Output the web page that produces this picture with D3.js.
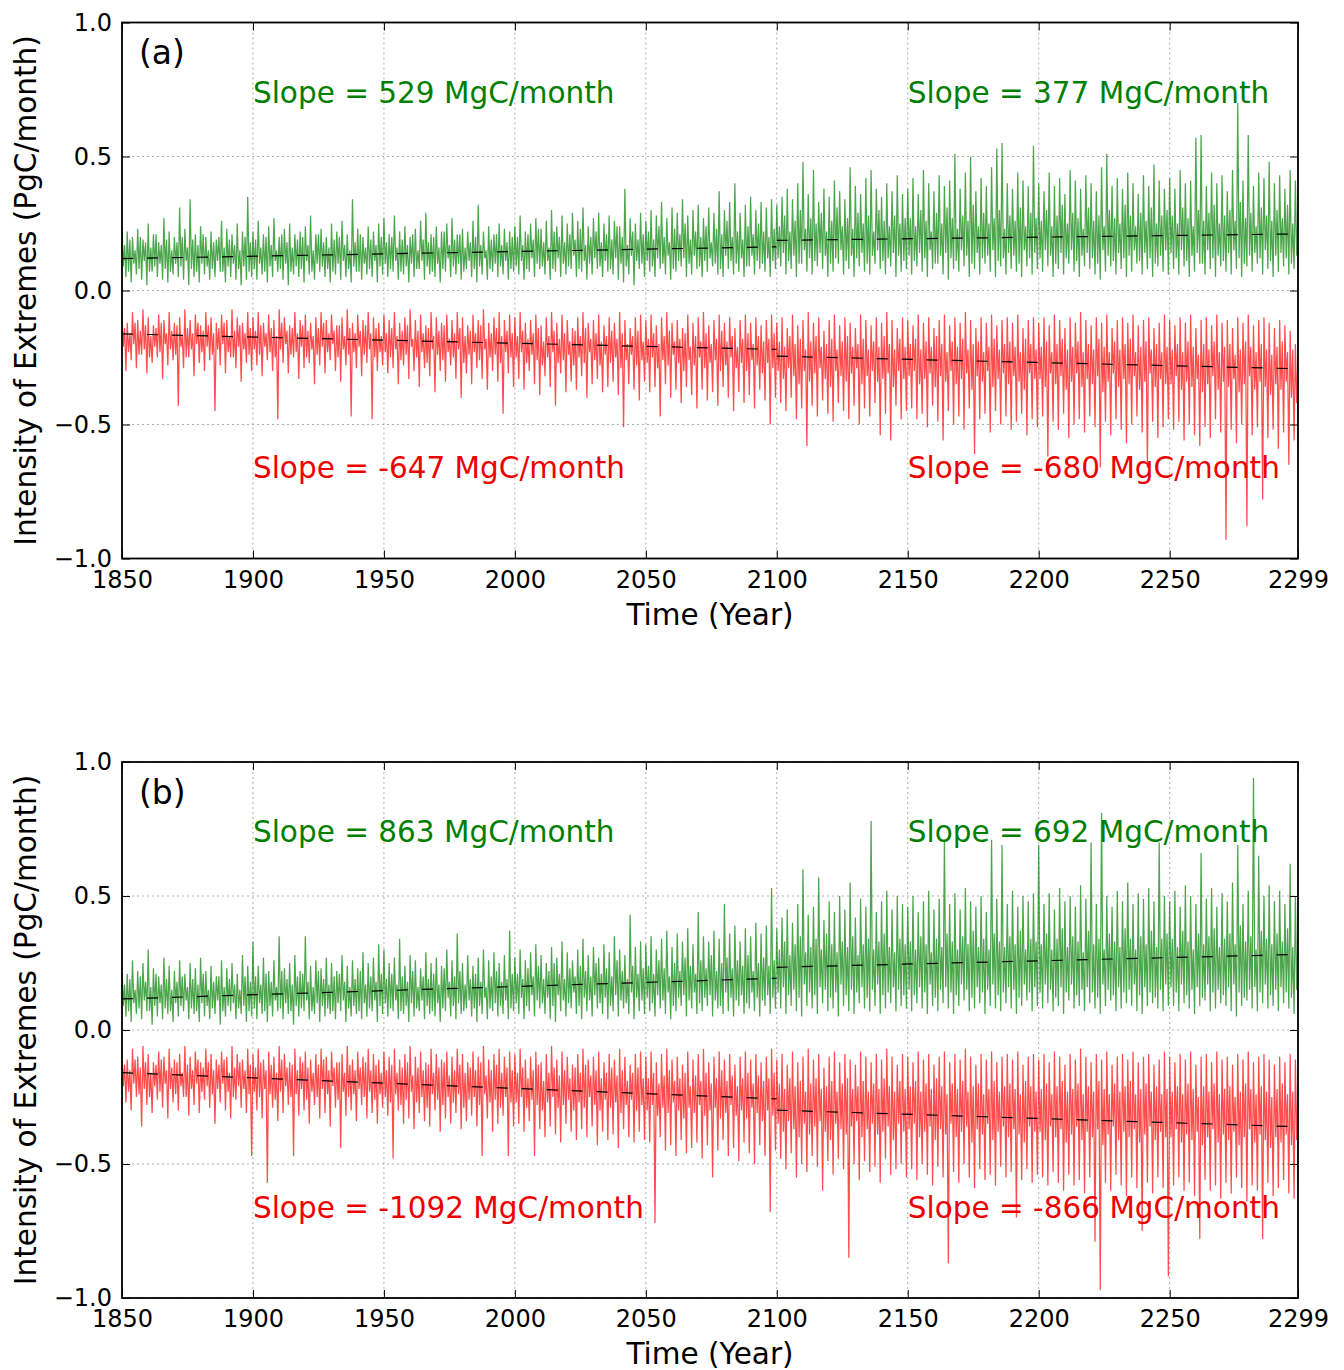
<!DOCTYPE html>
<html><head><meta charset="utf-8">
<script src="https://cdn.jsdelivr.net/npm/d3@7"></script>
<style>body{margin:0;background:#fff}svg{display:block}text{font-family:"DejaVu Sans",sans-serif}</style>
</head><body>
<script>
// ---- data (values in units of 0.01 PgC/month; 2-year bins starting 1850) ----
// Hi / Lo: extreme upper / lower excursion in the bin; Hi2 / Lo2: typical (core-band) upper / lower level in the bin
const binStart = 1850, binYears = 2;
const xTicks = [1850,1900,1950,2000,2050,2100,2150,2200,2250,2299];
const yTicks = [1.0,0.5,0.0,-0.5,-1.0];
const panelLabels = ["(a)","(b)"];
const slopeTextsA = ["Slope = 529 MgC/month","Slope = 377 MgC/month","Slope = -647 MgC/month","Slope = -680 MgC/month"];
const slopeTextsB = ["Slope = 863 MgC/month","Slope = 692 MgC/month","Slope = -1092 MgC/month","Slope = -866 MgC/month"];

const gAHi = [24,22,20,23,19,25,21,18,27,22,20,31,23,34,21,24,20,22,19,26,23,21,25,22,35,
22,26,21,24,27,20,23,25,21,22,24,28,21,23,20,25,22,26,21,34,23,20,24,22,25,
27,21,28,22,24,20,23,26,29,21,24,22,25,27,21,23,22,26,32,22,24,21,25,23,22,
24,28,22,25,27,23,26,30,24,28,25,29,26,31,24,27,29,25,28,26,24,38,27,25,29,
26,30,28,33,27,31,29,34,28,30,32,27,31,29,37,30,33,40,29,32,35,30,33,31,34,
32,35,38,34,40,48,36,45,33,38,35,41,37,34,46,39,36,42,45,38,35,40,37,43,36,
38,42,36,45,40,37,43,39,41,51,38,44,50,37,42,39,46,53,55,40,38,44,41,39,54,
40,37,44,39,42,36,45,41,38,43,40,37,46,51,39,42,38,44,40,36,43,39,47,41,38,
42,38,45,40,41,57,58,39,44,40,43,37,45,70,41,58,39,44,42,48,40,43,38,45,41];
const gALo = [5,3,6,4,2,7,5,4,3,6,5,4,2,5,3,6,4,5,7,3,5,4,2,4,5,
4,6,3,5,7,4,2,6,5,3,6,4,7,5,3,6,4,5,3,7,4,6,5,3,6,
5,7,4,6,3,5,8,4,6,5,3,7,5,6,4,8,5,3,6,4,7,5,6,4,7,
6,4,7,5,8,6,4,7,5,6,8,5,7,4,6,8,5,7,6,4,3,6,2,8,5,
7,5,8,6,4,7,9,5,6,8,5,7,9,6,5,8,6,7,5,9,6,8,7,5,8,
9,6,8,5,10,7,6,9,8,5,7,10,6,8,5,9,7,6,10,8,6,9,5,7,8,
6,9,7,5,8,10,6,4,8,7,9,5,8,6,10,7,5,9,6,8,7,5,9,6,8,
7,9,5,8,6,10,7,5,9,8,6,4,7,9,6,8,5,7,10,6,8,5,9,7,6,
8,6,9,5,7,10,6,8,5,9,7,6,8,5,9,7,10,6,8,5,7,9,6,8,7];
const gAHi2 = [17,19,15,20,18,16,21,17,19,15,18,20,16,19,17,21,15,18,20,16,19,17,15,20,18,
19,16,20,17,15,21,18,16,19,20,17,15,21,18,16,19,20,17,15,18,21,16,19,17,20,
18,20,16,19,17,21,15,19,18,20,16,22,17,19,21,16,18,20,17,15,19,21,17,18,20,
20,17,21,19,23,18,16,22,20,18,21,19,23,17,20,22,18,21,19,24,20,17,22,19,21,
22,19,24,20,18,23,21,25,19,22,20,24,18,23,21,26,20,22,19,24,21,25,22,20,23,
24,28,22,26,30,23,27,25,29,22,26,31,24,27,23,29,25,28,22,30,26,24,28,25,27,
27,24,30,26,22,29,25,31,27,23,28,26,32,24,29,25,27,30,23,28,26,31,24,29,27,
26,30,24,28,32,25,29,27,23,31,26,28,24,30,27,25,32,28,24,29,26,31,25,28,30,
28,25,31,27,24,30,26,29,32,25,28,30,26,33,27,29,24,31,28,26,30,27,32,25,29];
const gALo2 = [9,7,10,8,11,7,9,10,8,7,10,9,11,8,7,10,9,8,11,7,9,10,8,9,7,
8,10,7,9,11,8,10,7,9,8,11,7,10,9,8,7,10,11,8,9,7,10,8,11,9,
10,8,11,7,9,10,8,11,9,7,10,8,12,9,10,7,11,8,9,12,8,10,9,11,8,
9,11,8,12,10,9,11,8,12,10,9,13,8,11,10,12,9,11,8,12,10,9,13,11,10,
11,9,12,10,13,8,11,12,10,13,9,11,12,10,8,13,11,10,12,9,13,11,10,12,11,
12,14,11,13,10,15,12,11,14,13,10,12,15,11,13,12,14,10,13,15,11,12,14,13,11,
13,11,14,12,15,10,13,14,12,11,15,13,10,14,12,13,15,11,12,14,13,10,15,12,14,
12,15,13,10,14,12,15,11,13,14,12,10,15,13,11,14,12,13,15,11,14,12,10,13,15,
14,12,15,11,13,14,10,15,12,13,11,14,15,12,10,13,14,12,15,11,13,14,12,10,13];

const rAHi = [-9,-12,-8,-11,-7,-10,-13,-9,-11,-8,-12,-10,-7,-11,-9,-13,-8,-10,-12,-9,-11,-7,-10,-12,-8,
-10,-8,-12,-9,-11,-7,-10,-13,-8,-11,-9,-12,-10,-8,-11,-9,-13,-10,-7,-12,-9,-11,-8,-10,-12,
-9,-11,-8,-12,-10,-7,-11,-9,-13,-8,-10,-12,-9,-11,-8,-10,-13,-9,-11,-7,-12,-10,-8,-11,-9,
-10,-8,-12,-11,-9,-13,-10,-8,-12,-9,-11,-14,-10,-8,-12,-11,-9,-13,-10,-12,-8,-11,-14,-10,-9,
-11,-9,-13,-10,-8,-12,-11,-14,-9,-12,-10,-8,-13,-11,-9,-12,-10,-14,-11,-9,-12,-10,-13,-11,-9,
-12,-10,-14,-9,-13,-11,-8,-12,-10,-15,-11,-9,-13,-10,-12,-14,-9,-11,-13,-10,-12,-8,-11,-14,-10,
-11,-13,-9,-12,-10,-14,-11,-9,-13,-10,-12,-8,-11,-14,-10,-12,-9,-13,-11,-10,-12,-9,-14,-11,-10,
-12,-10,-13,-9,-11,-14,-10,-12,-8,-11,-13,-10,-12,-9,-14,-11,-10,-12,-9,-13,-11,-10,-14,-12,-9,
-11,-13,-10,-12,-9,-14,-11,-10,-13,-9,-12,-11,-14,-10,-12,-9,-13,-11,-10,-12,-14,-11,-13,-15,-20];
const rALo = [-30,-26,-29,-24,-31,-27,-25,-33,-28,-26,-43,-29,-25,-32,-27,-30,-26,-45,-28,-31,-25,-29,-34,-27,-30,
-28,-32,-26,-30,-48,-27,-31,-25,-33,-29,-27,-35,-28,-31,-26,-30,-34,-28,-47,-29,-32,-27,-48,-30,-28,
-31,-29,-35,-28,-33,-30,-36,-29,-32,-38,-30,-34,-28,-33,-40,-31,-35,-29,-33,-37,-30,-34,-46,-31,-36,
-33,-37,-30,-35,-39,-32,-36,-43,-31,-38,-34,-37,-32,-40,-35,-33,-38,-36,-34,-39,-51,-35,-37,-41,-34,
-38,-36,-47,-35,-40,-37,-42,-36,-39,-44,-37,-41,-38,-43,-36,-40,-45,-38,-42,-39,-44,-37,-41,-50,-40,
-42,-45,-40,-48,-44,-58,-43,-47,-41,-46,-49,-42,-45,-48,-43,-50,-44,-47,-42,-54,-46,-56,-43,-48,-45,
-44,-48,-46,-51,-43,-49,-56,-45,-50,-47,-52,-44,-61,-48,-46,-53,-45,-50,-47,-52,-49,-46,-54,-48,-51,
-47,-62,-49,-52,-46,-55,-50,-48,-53,-47,-51,-66,-49,-54,-48,-52,-57,-50,-47,-53,-66,-49,-55,-51,-48,
-52,-49,-56,-50,-54,-58,-51,-55,-48,-53,-93,-52,-57,-50,-88,-54,-51,-78,-55,-52,-59,-53,-65,-56,-58];
const rAHi2 = [-14,-16,-12,-15,-13,-17,-14,-12,-16,-15,-13,-17,-14,-16,-12,-15,-13,-16,-14,-12,-17,-15,-13,-16,-14,
-15,-13,-16,-14,-17,-12,-15,-14,-16,-13,-15,-17,-14,-12,-16,-15,-13,-17,-14,-16,-15,-13,-16,-14,-17,
-16,-14,-17,-15,-13,-18,-15,-16,-14,-17,-15,-13,-18,-16,-14,-17,-15,-16,-13,-18,-16,-14,-17,-15,-16,
-17,-15,-18,-16,-14,-19,-17,-15,-18,-16,-19,-15,-17,-14,-18,-16,-19,-17,-15,-18,-16,-20,-17,-15,-19,
-18,-16,-20,-17,-15,-19,-18,-16,-21,-17,-19,-16,-20,-18,-15,-19,-17,-21,-18,-16,-20,-17,-19,-18,-16,
-19,-21,-17,-20,-18,-22,-19,-17,-21,-20,-18,-22,-19,-17,-21,-20,-18,-22,-19,-21,-17,-20,-22,-18,-21,
-20,-18,-22,-19,-21,-17,-20,-23,-19,-21,-18,-22,-20,-19,-23,-21,-18,-22,-20,-19,-21,-23,-18,-20,-22,
-21,-19,-23,-20,-18,-22,-21,-19,-23,-20,-22,-18,-21,-23,-19,-22,-20,-18,-23,-21,-19,-22,-20,-23,-21,
-22,-20,-23,-19,-21,-24,-20,-22,-19,-23,-21,-20,-24,-22,-19,-21,-23,-20,-22,-24,-21,-19,-23,-22,-25];
const rALo2 = [-21,-23,-20,-24,-22,-25,-21,-23,-20,-22,-24,-21,-25,-22,-20,-23,-21,-24,-22,-20,-23,-25,-21,-22,-24,
-22,-24,-21,-23,-25,-22,-20,-24,-23,-21,-25,-22,-24,-21,-23,-20,-25,-22,-24,-23,-21,-24,-22,-25,-23,
-23,-25,-22,-26,-24,-21,-25,-23,-27,-22,-24,-26,-23,-25,-22,-27,-24,-23,-26,-22,-25,-24,-27,-23,-25,
-25,-23,-27,-24,-26,-28,-25,-23,-27,-26,-24,-28,-25,-27,-23,-26,-28,-24,-27,-25,-29,-26,-24,-28,-26,
-27,-25,-29,-26,-28,-24,-27,-30,-26,-28,-25,-29,-27,-26,-30,-28,-25,-29,-27,-30,-26,-28,-31,-27,-29,
-30,-33,-29,-32,-35,-30,-34,-31,-29,-33,-36,-30,-32,-34,-31,-29,-35,-32,-30,-34,-33,-31,-36,-30,-33,
-32,-30,-35,-33,-31,-36,-32,-34,-30,-35,-33,-31,-37,-32,-34,-30,-36,-33,-31,-35,-32,-34,-37,-31,-33,
-33,-36,-31,-35,-32,-37,-34,-31,-36,-33,-35,-32,-38,-34,-31,-36,-33,-35,-32,-37,-34,-31,-36,-33,-35,
-35,-32,-37,-34,-36,-33,-38,-35,-32,-37,-34,-36,-33,-38,-35,-32,-37,-34,-36,-39,-35,-37,-34,-40,-42];

const gBHi = [24,21,26,22,25,30,23,20,27,24,22,26,21,25,23,27,22,24,20,26,23,25,21,28,24,
33,24,27,22,26,35,23,25,28,22,35,24,26,23,27,25,22,28,24,26,23,29,25,27,32,
30,25,27,34,24,28,26,23,29,25,27,24,30,26,36,25,28,24,27,30,26,29,25,28,37,
27,30,26,29,32,28,25,31,27,33,29,26,30,34,28,31,27,32,29,35,30,28,43,31,33,
32,35,30,34,37,31,36,33,38,32,44,35,33,37,34,47,36,39,33,38,35,40,36,39,53,
38,42,45,40,47,60,43,46,57,41,48,44,50,45,55,42,49,46,78,44,48,52,45,50,47,
46,50,44,48,52,45,49,71,47,51,45,53,48,46,50,44,71,49,69,47,52,46,50,48,51,
69,47,51,45,53,48,50,46,54,49,70,47,81,50,46,52,48,55,47,51,49,53,48,70,50,
48,52,46,54,50,47,66,49,53,46,51,48,55,69,47,52,94,65,50,54,48,52,47,62,50];
const gBLo = [5,3,6,4,7,2,5,4,6,3,5,7,4,6,3,5,4,6,2,5,7,4,6,3,5,
4,6,3,5,7,4,6,2,5,7,4,6,3,5,6,4,7,3,5,6,4,5,7,3,6,
5,7,4,6,3,5,7,4,6,5,3,7,5,4,6,8,5,3,6,4,7,5,6,4,7,
6,4,7,5,8,6,4,3,7,5,8,6,4,7,5,8,6,4,7,5,8,6,4,7,6,
7,5,8,6,4,7,9,5,8,6,7,9,5,8,6,7,5,9,6,8,7,5,9,6,8,
8,6,9,7,5,9,8,6,10,7,8,5,9,7,6,10,8,7,9,6,8,10,7,9,8,
7,10,8,6,9,7,10,8,6,9,11,7,8,10,6,9,8,7,10,8,6,9,11,7,9,
8,10,7,9,6,11,8,9,7,10,8,6,9,11,7,8,10,9,7,6,9,10,8,7,9,
9,7,10,8,6,9,11,7,8,10,9,7,5,9,11,8,7,10,8,9,7,10,8,6,9];
const gBHi2 = [17,19,15,20,18,16,21,17,19,15,18,20,16,19,17,21,15,18,20,16,19,17,15,20,18,
20,17,21,18,16,22,19,17,20,21,18,16,22,19,17,20,21,18,16,19,22,17,20,18,21,
19,21,17,20,18,22,16,20,19,21,17,23,18,20,22,17,19,21,18,16,20,22,18,19,21,
21,19,23,20,24,19,22,25,21,19,23,20,24,22,20,25,21,23,20,26,22,19,24,21,23,
24,21,26,23,20,25,22,27,24,21,26,23,28,22,25,27,23,26,24,28,22,25,27,24,26,
30,33,28,32,35,29,31,34,30,36,32,29,33,31,35,28,32,34,30,33,36,31,29,34,32,
33,30,35,32,29,34,31,36,33,30,35,32,37,31,34,30,36,33,31,35,32,37,30,34,33,
32,36,30,34,38,31,35,33,29,37,32,34,30,36,33,31,38,34,30,35,32,37,31,34,36,
34,31,37,33,30,36,32,35,38,31,34,36,32,39,33,35,30,37,34,32,36,33,38,31,35];
const gBLo2 = [9,7,10,8,11,7,9,10,8,7,10,9,11,8,7,10,9,8,11,7,9,10,8,9,7,
8,10,7,9,11,8,10,7,9,8,11,7,10,9,8,7,10,11,8,9,7,10,8,11,9,
10,8,11,7,9,10,8,11,9,7,10,8,12,9,10,7,11,8,9,12,8,10,9,11,8,
10,12,9,13,11,10,12,9,13,11,10,14,9,12,11,13,10,12,9,13,11,10,14,12,11,
12,10,13,11,14,9,12,13,11,14,10,12,13,11,9,14,12,11,13,10,14,12,11,13,12,
14,16,13,15,12,17,14,13,16,15,12,14,17,13,15,14,16,12,15,17,13,14,16,15,13,
15,13,16,14,17,12,15,16,14,13,17,15,12,16,14,15,17,13,14,16,15,12,17,14,16,
14,17,15,12,16,14,17,13,15,16,14,12,17,15,13,16,14,15,17,13,16,14,12,15,17,
16,14,17,13,15,16,12,17,14,15,13,16,17,14,12,15,16,14,17,13,15,16,14,12,15];

const rBHi = [-8,-11,-7,-10,-6,-9,-12,-8,-10,-7,-11,-9,-6,-10,-8,-12,-7,-9,-11,-8,-10,-6,-9,-11,-7,
-9,-7,-11,-8,-10,-6,-9,-12,-7,-10,-8,-11,-9,-7,-10,-8,-12,-9,-6,-11,-8,-10,-7,-9,-11,
-8,-10,-7,-11,-9,-6,-10,-8,-12,-7,-9,-11,-8,-10,-7,-9,-12,-8,-10,-6,-11,-9,-7,-10,-8,
-9,-7,-11,-10,-8,-12,-9,-6,-11,-8,-10,-13,-9,-7,-11,-10,-8,-12,-9,-11,-7,-10,-13,-9,-8,
-10,-8,-12,-9,-7,-11,-10,-13,-8,-11,-9,-7,-12,-10,-8,-11,-9,-13,-10,-8,-11,-9,-12,-10,-7,
-11,-9,-13,-8,-12,-10,-7,-11,-9,-14,-10,-8,-12,-9,-11,-13,-8,-10,-12,-9,-11,-7,-10,-13,-9,
-10,-12,-8,-11,-9,-13,-10,-8,-12,-9,-11,-7,-10,-13,-9,-11,-8,-12,-10,-9,-11,-8,-13,-10,-9,
-11,-9,-12,-8,-10,-13,-9,-11,-7,-10,-12,-9,-11,-8,-13,-10,-9,-11,-8,-12,-10,-9,-13,-11,-8,
-10,-12,-9,-11,-8,-13,-10,-9,-12,-8,-11,-10,-13,-9,-11,-8,-12,-10,-9,-11,-13,-10,-12,-9,-11];
const rBLo = [-27,-30,-25,-36,-28,-31,-26,-29,-33,-27,-30,-25,-32,-28,-31,-26,-29,-35,-27,-30,-33,-26,-29,-31,-47,
-30,-33,-57,-29,-34,-31,-28,-47,-32,-30,-35,-28,-33,-31,-36,-29,-44,-32,-30,-34,-28,-33,-31,-35,-29,
-32,-48,-30,-35,-33,-37,-31,-34,-36,-30,-38,-33,-35,-31,-37,-34,-32,-36,-47,-33,-38,-35,-32,-47,-36,
-35,-38,-34,-47,-37,-40,-36,-39,-42,-35,-38,-41,-37,-40,-36,-43,-38,-41,-39,-44,-37,-40,-42,-38,-41,
-42,-72,-40,-45,-43,-47,-41,-46,-44,-42,-48,-43,-55,-45,-41,-47,-44,-49,-42,-46,-50,-43,-47,-68,-45,
-48,-52,-46,-55,-50,-53,-47,-51,-60,-49,-54,-48,-52,-85,-50,-56,-49,-53,-51,-57,-48,-54,-52,-50,-55,
-52,-56,-50,-54,-58,-51,-55,-87,-53,-57,-50,-55,-59,-52,-56,-54,-58,-51,-55,-53,-70,-56,-52,-57,-54,
-55,-58,-53,-57,-60,-54,-58,-56,-61,-55,-79,-97,-57,-60,-54,-58,-62,-55,-59,-75,-57,-61,-55,-59,-92,
-58,-55,-60,-57,-62,-78,-56,-60,-58,-63,-57,-61,-55,-59,-64,-58,-60,-78,-57,-62,-59,-56,-61,-63,-58];
const rBHi2 = [-13,-15,-11,-14,-12,-16,-13,-11,-15,-14,-12,-16,-13,-15,-11,-14,-12,-15,-13,-11,-16,-14,-12,-15,-13,
-14,-12,-15,-13,-16,-11,-14,-13,-15,-12,-14,-16,-13,-11,-15,-14,-12,-16,-13,-15,-14,-12,-15,-13,-16,
-15,-13,-16,-14,-12,-17,-14,-15,-13,-16,-14,-12,-17,-15,-13,-16,-14,-15,-12,-17,-15,-13,-16,-14,-15,
-16,-14,-18,-15,-13,-19,-16,-14,-17,-15,-18,-14,-16,-13,-17,-15,-18,-16,-14,-17,-15,-19,-16,-14,-18,
-18,-16,-20,-17,-15,-19,-18,-16,-21,-17,-19,-16,-20,-18,-15,-19,-17,-21,-18,-16,-20,-17,-19,-18,-16,
-20,-22,-18,-21,-19,-23,-20,-18,-22,-21,-19,-23,-20,-18,-22,-21,-19,-23,-20,-22,-18,-21,-23,-19,-22,
-21,-19,-23,-20,-22,-18,-21,-24,-20,-22,-19,-23,-21,-20,-24,-22,-19,-23,-21,-20,-22,-24,-19,-21,-23,
-22,-20,-24,-21,-19,-23,-22,-20,-24,-21,-23,-19,-22,-24,-20,-23,-21,-19,-24,-22,-20,-23,-21,-24,-22,
-23,-21,-24,-20,-22,-25,-21,-23,-20,-24,-22,-21,-25,-23,-20,-22,-24,-21,-23,-25,-22,-20,-24,-23,-22];
const rBLo2 = [-21,-23,-20,-24,-22,-25,-21,-23,-20,-22,-24,-21,-25,-22,-20,-23,-21,-24,-22,-20,-23,-25,-21,-22,-24,
-23,-25,-22,-24,-26,-23,-21,-25,-24,-22,-26,-23,-25,-22,-24,-21,-26,-23,-25,-24,-22,-25,-23,-26,-24,
-25,-27,-24,-28,-26,-23,-27,-25,-29,-24,-26,-28,-25,-27,-24,-29,-26,-25,-28,-24,-27,-26,-29,-25,-27,
-27,-25,-29,-26,-28,-30,-27,-25,-29,-28,-26,-30,-27,-29,-25,-28,-30,-26,-29,-27,-31,-28,-26,-30,-28,
-30,-28,-32,-29,-31,-27,-30,-33,-29,-31,-28,-32,-30,-29,-33,-31,-28,-32,-30,-33,-29,-31,-34,-30,-32,
-35,-38,-34,-37,-40,-35,-39,-36,-34,-38,-41,-35,-37,-39,-36,-34,-40,-37,-35,-39,-38,-36,-41,-35,-38,
-37,-35,-40,-38,-36,-41,-37,-39,-35,-40,-38,-36,-42,-37,-39,-35,-41,-38,-36,-40,-37,-39,-42,-36,-38,
-38,-41,-36,-40,-37,-42,-39,-36,-41,-38,-40,-37,-43,-39,-36,-41,-38,-40,-37,-42,-39,-36,-41,-38,-40,
-40,-37,-42,-39,-41,-38,-43,-40,-37,-42,-39,-41,-38,-43,-40,-37,-42,-39,-41,-44,-40,-42,-39,-43,-41];

// linear trend segments [x0, y0, x1, y1] in PgC/month
const trendAGreen = [[1850,0.119,2099.9,0.163],[2100,0.187,2299,0.211]];
const trendARed   = [[1850,-0.162,2099.9,-0.220],[2100,-0.245,2299,-0.292]];
const trendBGreen = [[1850,0.116,2099.9,0.193],[2100,0.234,2299,0.282]];
const trendBRed   = [[1850,-0.159,2099.9,-0.257],[2100,-0.299,2299,-0.361]];

// ---- drawing ----
const W = 1344, H = 1370;
const svg = d3.select("body").append("svg").attr("width", W).attr("height", H);
const left = 122, right = 1298, ph = 536;
const x = d3.scaleLinear().domain([1850, 2299]).range([left, right]);

const panels = [
  {top: 22.5, label: panelLabels[0], texts: slopeTextsA,
   series: [[gAHi,gALo2,gAHi2,gALo,"#008000"],[rAHi,rALo2,rAHi2,rALo,"#ff0000"]], trends: [trendAGreen, trendARed]},
  {top: 762, label: panelLabels[1], texts: slopeTextsB,
   series: [[gBHi,gBLo2,gBHi2,gBLo,"#008000"],[rBHi,rBLo2,rBHi2,rBLo,"#ff0000"]], trends: [trendBGreen, trendBRed]}
];

// four readings per 2-year bin, placed at quarter-bin offsets
function toPoints(a, b, c, d) {
  const pts = [];
  a.forEach((v, i) => {
    const t = binStart + binYears * i;
    pts.push([t, v / 100]);
    pts.push([t + 0.5, b[i] / 100]);
    pts.push([t + 1.0, c[i] / 100]);
    pts.push([Math.min(2299, t + 1.5), d[i] / 100]);
  });
  return pts;
}

panels.forEach((p, k) => {
  const y = d3.scaleLinear().domain([-1, 1]).range([p.top + ph, p.top]);
  const g = svg.append("g");
  const clipId = "clip" + k;
  svg.append("defs").append("clipPath").attr("id", clipId)
    .append("rect").attr("x", left).attr("y", p.top).attr("width", right - left).attr("height", ph);

  // grid
  g.selectAll(".gx").data(xTicks).enter().append("line")
    .attr("x1", d => x(d)).attr("x2", d => x(d)).attr("y1", p.top).attr("y2", p.top + ph)
    .attr("stroke", "#999").attr("stroke-width", 0.8).attr("stroke-dasharray", "2,3");
  g.selectAll(".gy").data(yTicks).enter().append("line")
    .attr("x1", left).attr("x2", right).attr("y1", d => y(d)).attr("y2", d => y(d))
    .attr("stroke", "#999").attr("stroke-width", 0.8).attr("stroke-dasharray", "2,3");

  // series
  const line = d3.line().x(d => x(d[0])).y(d => y(d[1]));
  const sg = g.append("g").attr("clip-path", `url(#${clipId})`);
  p.series.forEach(([a, b, c, d, col]) => {
    sg.append("path").datum(toPoints(a, b, c, d)).attr("d", line)
      .attr("fill", "none").attr("stroke", col).attr("stroke-opacity", 0.7).attr("stroke-width", 1.25);
  });
  // trends
  p.trends.forEach(tr => tr.forEach(s => {
    sg.append("line").attr("x1", x(s[0])).attr("y1", y(s[1])).attr("x2", x(s[2])).attr("y2", y(s[3]))
      .attr("stroke", "#000").attr("stroke-width", 1.2).attr("stroke-dasharray", "11,14");
  }));

  // axes (inward ticks on all sides)
  const tl = 8;
  const ax = d3.axisBottom(x).tickValues(xTicks).tickFormat(d3.format("d")).tickSizeInner(-tl).tickSizeOuter(0).tickPadding(12);
  const axB = g.append("g").attr("transform", `translate(0,${p.top + ph})`).call(ax);
  const axT = g.append("g").attr("transform", `translate(0,${p.top})`)
    .call(d3.axisTop(x).tickValues(xTicks).tickSizeInner(-tl).tickSizeOuter(0).tickFormat(""));
  const fmtY = v => (v < 0 ? "\u2212" : "") + Math.abs(v).toFixed(1);
  const axL = g.append("g").attr("transform", `translate(${left},0)`)
    .call(d3.axisLeft(y).tickValues(yTicks).tickFormat(fmtY).tickSizeInner(-tl).tickSizeOuter(0).tickPadding(10));
  const axR = g.append("g").attr("transform", `translate(${right},0)`)
    .call(d3.axisRight(y).tickValues(yTicks).tickSizeInner(-tl).tickSizeOuter(0).tickFormat(""));
  [axB, axT, axL, axR].forEach(a => {
    a.select(".domain").remove();
    a.selectAll("line").attr("stroke", "#000").attr("stroke-width", 1);
    a.selectAll("text").attr("fill", "#000").style("font-size", "24px").style("font-family", "DejaVu Sans");
  });
  axB.selectAll("text").attr("dy", "0.71em");
  axL.selectAll("text").attr("dy", "0.33em");

  // frame
  g.append("rect").attr("x", left).attr("y", p.top).attr("width", right - left).attr("height", ph)
    .attr("fill", "none").attr("stroke", "#000").attr("stroke-width", 1.8);

  // labels
  g.append("text").attr("x", 139).attr("y", p.top + 41.5).text(p.label)
    .style("font-size", "33px").attr("fill", "#000");
  const tcol = ["#007f00", "#007f00", "#ee0000", "#ee0000"];
  const tpos = [[1900, 0.7], [2150, 0.7], [1900, -0.7], [2150, -0.7]];
  p.texts.forEach((t, i) => {
    g.append("text").attr("x", x(tpos[i][0])).attr("y", y(tpos[i][1])).text(t)
      .style("font-size", "29.5px").attr("fill", tcol[i]);
  });
  g.append("text").attr("x", (left + right) / 2).attr("y", p.top + ph + 66).attr("text-anchor", "middle")
    .text("Time (Year)").style("font-size", "29.5px").attr("fill", "#000");
  g.append("text").attr("transform", `translate(36,${y(0)}) rotate(-90)`).attr("text-anchor", "middle")
    .text("Intensity of Extremes (PgC/month)").style("font-size", "29.5px").attr("fill", "#000");
});
</script>
</body></html>
